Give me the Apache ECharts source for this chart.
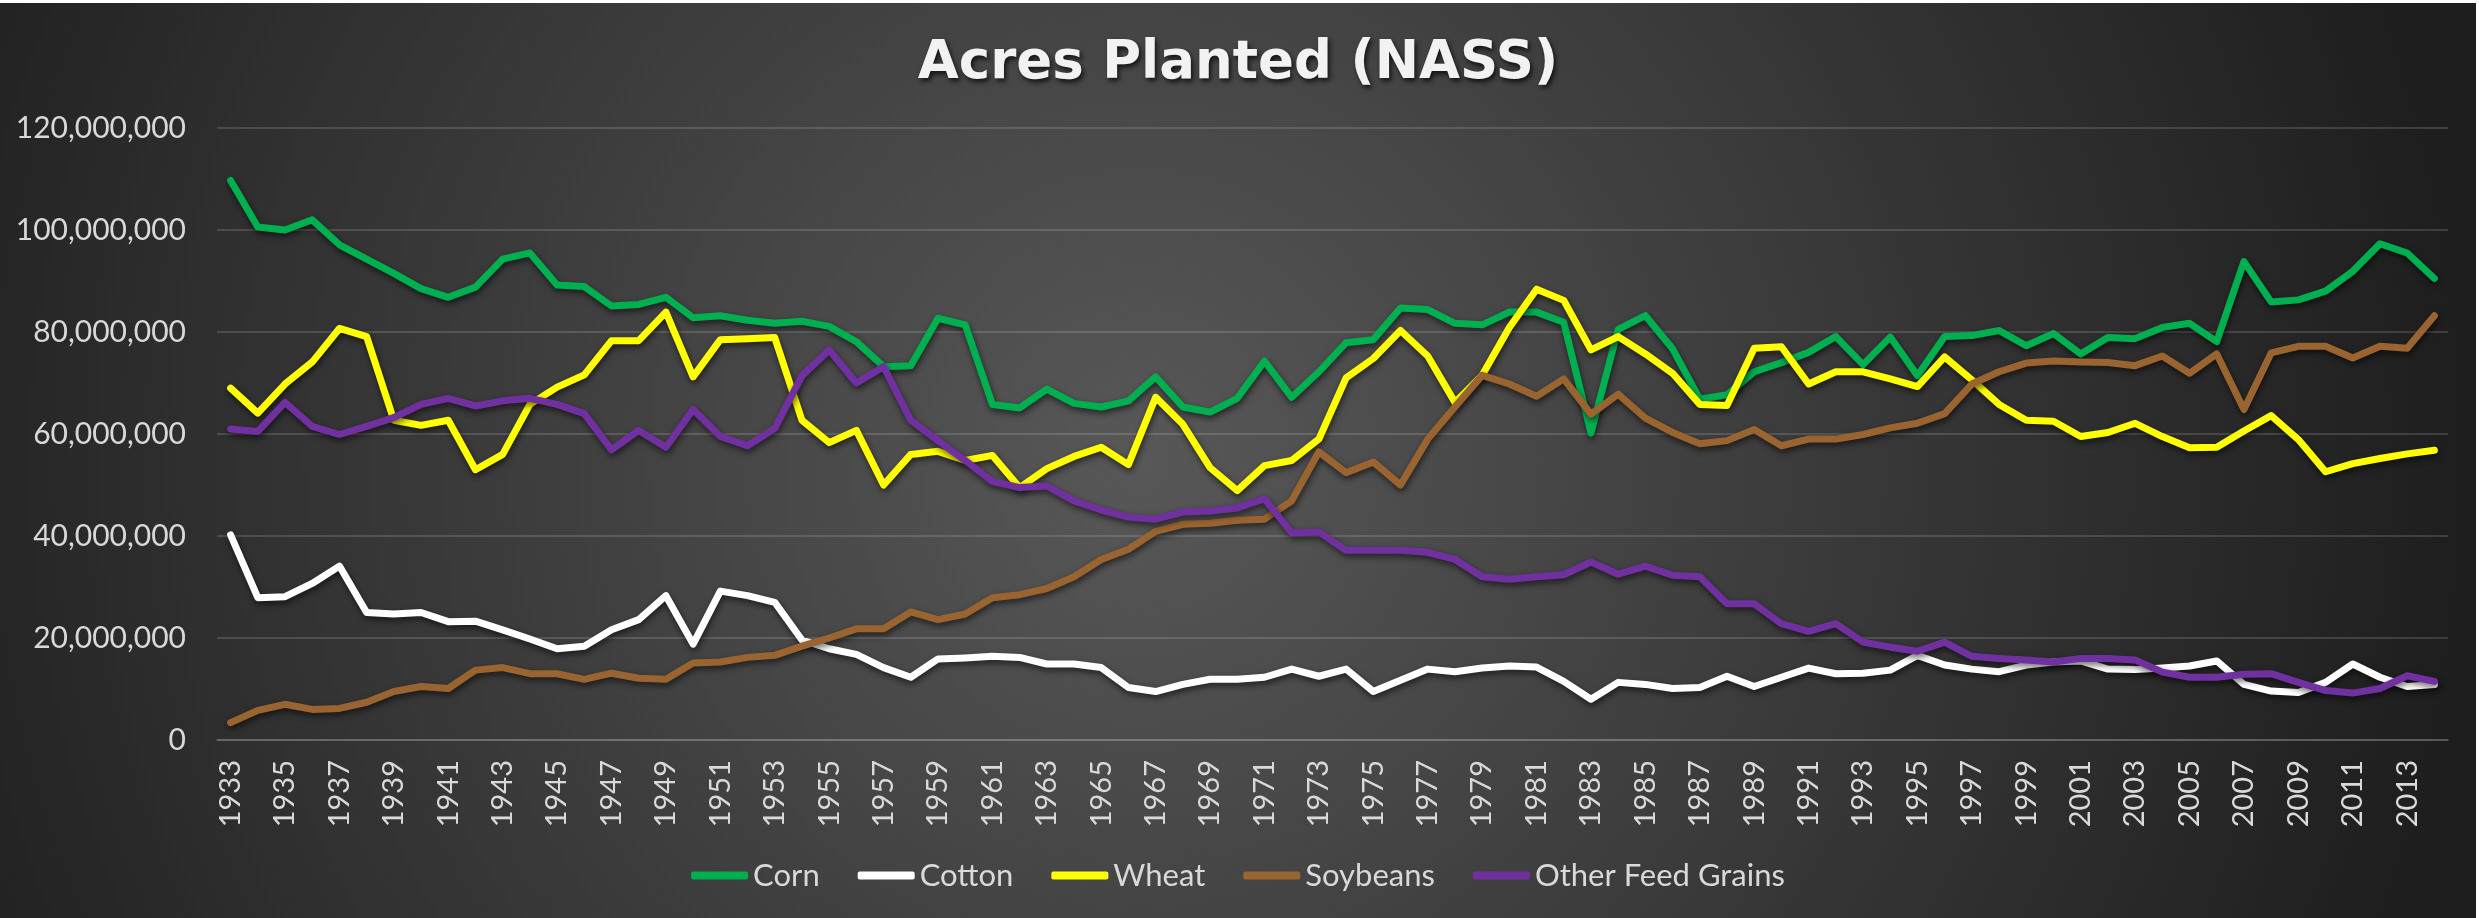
<!DOCTYPE html>
<html>
<head>
<meta charset="utf-8">
<title>Acres Planted (NASS)</title>
<script src="https://cdn.jsdelivr.net/npm/echarts@6/dist/echarts.min.js"></script>
<style>
  html, body { margin: 0; padding: 0; background: #ffffff; }
  #chart { position: absolute; left: 0; top: 3px; width: 2476px; height: 915px; }
</style>
</head>
<body>
<div id="chart"></div>
<script>
// years on the category axis
var years = [];
for (var y = 1933; y <= 2014; y++) years.push(String(y));

// acres planted, in millions
var corn = [109.7, 100.6, 100.0, 102.0, 97.1, 94.3, 91.5, 88.5, 86.8, 88.8, 94.3, 95.5, 89.2, 88.9, 85.1, 85.4, 86.8, 82.8, 83.2, 82.3, 81.7,
  82.1, 81.1, 78.1, 73.2, 73.4, 82.7, 81.4, 65.8, 65.1, 68.8, 66.0, 65.3, 66.5, 71.2, 65.3, 64.3, 67.0, 74.3, 67.2, 72.2,
  77.9, 78.5, 84.7, 84.4, 81.7, 81.4, 83.9, 83.9, 81.9, 60.2, 80.5, 83.2, 76.7, 66.8, 67.7, 72.2, 74.0, 76.0, 79.1, 73.6, 79.0,
  71.4, 79.1, 79.3, 80.3, 77.3, 79.7, 75.7, 78.9, 78.7, 80.9, 81.7, 78.1, 93.8, 85.9, 86.3, 88.0, 91.9, 97.3, 95.5, 90.5];

var cotton = [40.2, 27.9, 28.1, 30.7, 34.1, 25.0, 24.7, 25.0, 23.2, 23.3, 21.6, 19.8, 17.9, 18.4, 21.6, 23.6, 28.3, 18.8, 29.2, 28.3, 27.0,
  19.6, 17.9, 16.8, 14.2, 12.3, 15.9, 16.1, 16.4, 16.2, 14.9, 14.9, 14.2, 10.3, 9.5, 10.9, 11.9, 11.9, 12.3, 13.9, 12.5,
  13.9, 9.5, 11.7, 13.9, 13.4, 14.1, 14.5, 14.3, 11.5, 8.0, 11.3, 10.9, 10.1, 10.3, 12.5, 10.5, 12.3, 14.1, 13.0, 13.1, 13.7,
  16.6, 14.7, 13.9, 13.4, 14.7, 15.3, 15.5, 13.9, 13.8, 14.1, 14.5, 15.5, 10.9, 9.6, 9.3, 11.3, 14.9, 12.3, 10.5, 10.9];

var wheat = [69.0, 64.1, 69.8, 74.1, 80.7, 79.1, 62.7, 61.7, 62.7, 53.0, 56.0, 65.8, 69.2, 71.6, 78.3, 78.3, 83.9, 71.2, 78.5, 78.7, 78.9,
  62.7, 58.3, 60.7, 50.0, 56.0, 56.6, 54.8, 55.8, 49.5, 53.2, 55.6, 57.4, 54.0, 67.2, 61.9, 53.4, 48.9, 53.8, 54.8, 59.0,
  71.0, 74.8, 80.3, 75.3, 66.2, 71.5, 80.9, 88.4, 86.2, 76.5, 79.1, 75.7, 71.9, 65.8, 65.6, 76.8, 77.1, 69.8, 72.2, 72.2, 70.8,
  69.3, 75.1, 70.6, 65.8, 62.7, 62.5, 59.5, 60.3, 62.1, 59.5, 57.3, 57.4, 60.6, 63.6, 58.9, 52.6, 54.2, 55.2, 56.1, 56.8];

var soybeans = [3.4, 5.8, 7.0, 6.0, 6.2, 7.4, 9.5, 10.5, 10.1, 13.7, 14.2, 13.0, 13.0, 11.9, 13.1, 12.1, 11.9, 15.1, 15.3, 16.2, 16.6,
  18.4, 20.0, 21.8, 21.8, 25.1, 23.6, 24.7, 27.9, 28.5, 29.7, 32.0, 35.4, 37.4, 40.9, 42.3, 42.5, 43.1, 43.3, 46.9, 56.5,
  52.4, 54.5, 50.0, 59.0, 65.3, 71.5, 69.8, 67.4, 70.8, 63.9, 67.8, 63.1, 60.3, 58.1, 58.7, 60.9, 57.7, 59.0, 59.0, 59.9, 61.2,
  62.1, 64.0, 69.8, 72.2, 73.9, 74.3, 74.1, 74.0, 73.4, 75.3, 71.9, 75.7, 64.8, 75.9, 77.2, 77.2, 74.9, 77.2, 76.8, 83.2];

var otherFeedGrains = [61.0, 60.5, 66.2, 61.5, 59.9, 61.5, 63.2, 65.8, 67.0, 65.5, 66.5, 67.0, 65.8, 64.0, 56.9, 60.7, 57.4, 64.8, 59.5, 57.7, 61.1,
  71.4, 76.5, 70.0, 73.2, 62.7, 58.7, 54.8, 50.7, 49.5, 49.8, 46.9, 45.1, 43.7, 43.3, 44.7, 44.9, 45.5, 47.3, 40.6, 40.8,
  37.2, 37.2, 37.2, 36.8, 35.4, 32.0, 31.5, 32.0, 32.4, 34.9, 32.5, 34.1, 32.3, 32.0, 26.7, 26.7, 22.8, 21.3, 22.8, 19.2, 18.2,
  17.4, 19.2, 16.4, 16.0, 15.7, 15.3, 16.0, 16.0, 15.7, 13.3, 12.3, 12.3, 12.9, 13.0, 11.3, 9.7, 9.2, 10.1, 12.6, 11.5];

var seriesNames = ['Corn', 'Cotton', 'Wheat', 'Soybeans', 'Other Feed Grains'];
var seriesData = [corn, cotton, wheat, soybeans, otherFeedGrains];
var colors = ['#00b050', '#ffffff', '#ffff00', '#9a6430', '#7030a0'];

var labelColor = '#d9d9d9';
var font = 'Lato, "Open Sans", sans-serif';

var chart = echarts.init(document.getElementById('chart'));

chart.setOption({
  animation: false,
  backgroundColor: {
    type: 'radial', x: 0.46, y: 0.5, r: 1.45,
    colorStops: [
      { offset: 0, color: '#585858' },
      { offset: 1, color: '#1e1e1e' }
    ]
  },
  color: colors,
  title: {
    text: 'Acres Planted (NASS)',
    left: 'center',
    top: 30,
    textStyle: {
      color: '#f2f2f2',
      fontFamily: '"DejaVu Sans", "Open Sans", sans-serif',
      fontWeight: 'bold',
      fontSize: 53,
      textShadowColor: 'rgba(0,0,0,0.75)',
      textShadowBlur: 5,
      textShadowOffsetX: 2,
      textShadowOffsetY: 3
    }
  },
  legend: {
    data: seriesNames,
    bottom: 22,
    left: 'center',
    icon: 'roundRect',
    itemWidth: 57,
    itemHeight: 8,
    itemGap: 38,
    textStyle: { color: labelColor, fontSize: 31, fontFamily: font }
  },
  grid: { left: 217, right: 28, top: 125, bottom: 178 },
  xAxis: {
    type: 'category',
    data: years,
    boundaryGap: true,
    axisLine: { show: true, lineStyle: { color: 'rgba(255,255,255,0.14)', width: 2 } },
    axisTick: { show: false },
    axisLabel: {
      color: labelColor,
      fontSize: 29,
      fontFamily: font,
      rotate: 90,
      interval: 1,
      margin: 20
    }
  },
  yAxis: {
    type: 'value',
    min: 0,
    max: 120,
    interval: 20,
    axisLine: { show: false },
    axisTick: { show: false },
    splitLine: { lineStyle: { color: 'rgba(255,255,255,0.14)', width: 2 } },
    axisLabel: {
      color: labelColor,
      fontSize: 30,
      fontFamily: font,
      margin: 31,
      formatter: function (v) { return (v * 1000000).toLocaleString('en-US'); }
    }
  },
  series: seriesNames.map(function (name, i) {
    return {
      name: name,
      type: 'line',
      data: seriesData[i],
      symbol: 'none',
      lineStyle: {
        width: 7,
        color: colors[i],
        cap: 'round',
        join: 'round',
        shadowColor: 'rgba(0,0,0,0.6)',
        shadowBlur: 6,
        shadowOffsetX: 1,
        shadowOffsetY: 3
      }
    };
  })
});
</script>
</body>
</html>
